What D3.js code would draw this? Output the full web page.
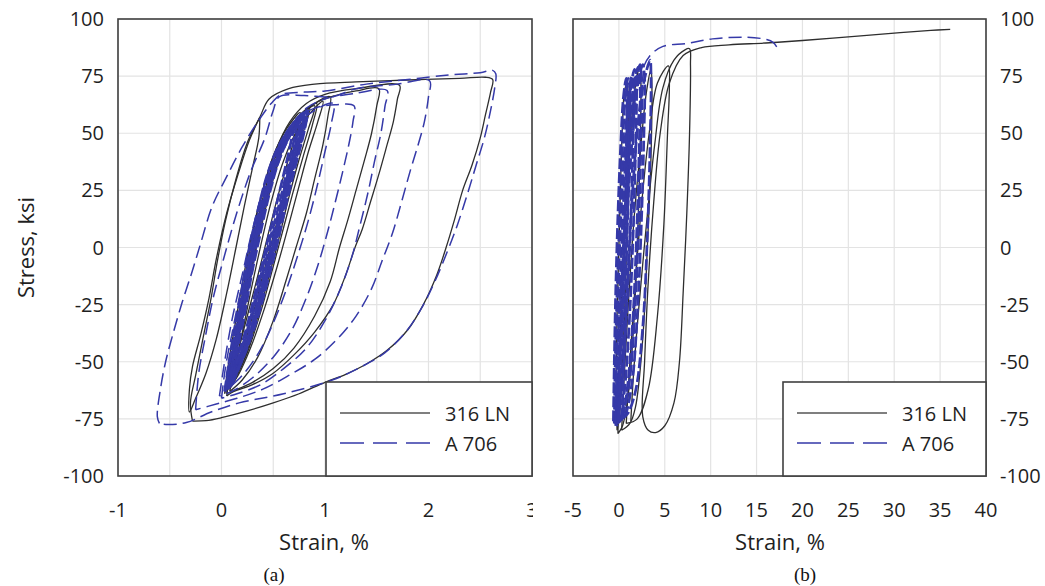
<!DOCTYPE html>
<html>
<head>
<meta charset="utf-8">
<script src="https://cdn.jsdelivr.net/npm/d3@7"></script>
<style>
  html, body { margin: 0; padding: 0; background: #fff; }
  svg { display: block; }
  .tick-label { font-family: "Open Sans", "Noto Sans", sans-serif; font-size: 20px; fill: #1f1f1f; }
  .axis-title { font-family: "Open Sans", "Noto Sans", sans-serif; font-size: 22px; fill: #1f1f1f; }
  .panel-tag { font-family: "Liberation Serif", "DejaVu Serif", serif; font-size: 19px; fill: #111; }
  .legend-text { font-family: "Open Sans", "Noto Sans", sans-serif; font-size: 20px; fill: #1f1f1f; }
</style>
</head>
<body>
<svg id="chart" width="1045" height="586"></svg>
<script>
// ---------- axis ticks and grid ----------
const stressTicks = [-100, -75, -50, -25, 0, 25, 50, 75, 100];
const strainTicksA = [-1, 0, 1, 2, 3];
const strainGridA = [-1, -0.5, 0, 0.5, 1, 1.5, 2, 2.5, 3];
const strainTicksB = [-5, 0, 5, 10, 15, 20, 25, 30, 35, 40];
const seriesNames = ["316 LN", "A 706"];

// ---------- panel (a): cyclic stress-strain loops, [strain %, stress ksi] ----------
// 316 LN, elastic cycles forming the central band
const bandA316 = [
  [[0.05,-63],[0.1,-48],[0.17,-30],[0.25,-10],[0.34,10],[0.45,30],[0.58,46],[0.72,56],[0.85,61],[0.8,52],[0.7,38],[0.6,22],[0.5,5],[0.4,-12],[0.3,-30],[0.18,-48],[0.08,-60],[0.05,-63]],
  [[0.08,-62],[0.14,-46],[0.22,-27],[0.31,-6],[0.41,14],[0.52,33],[0.65,49],[0.8,59],[0.92,63],[0.88,54],[0.79,40],[0.69,24],[0.59,7],[0.49,-10],[0.38,-28],[0.25,-46],[0.13,-58],[0.08,-62]],
  [[0.03,-64],[0.07,-50],[0.13,-34],[0.2,-16],[0.28,3],[0.38,22],[0.5,40],[0.63,52],[0.76,59],[0.72,50],[0.63,36],[0.53,20],[0.43,2],[0.33,-16],[0.22,-35],[0.12,-52],[0.03,-64]],
  [[0.1,-60],[0.18,-42],[0.27,-22],[0.37,-1],[0.48,20],[0.6,38],[0.74,52],[0.88,60],[0.98,64],[0.93,55],[0.84,42],[0.75,27],[0.65,10],[0.54,-8],[0.42,-26],[0.28,-44],[0.16,-56],[0.1,-60]],
  [[0.06,-62],[0.11,-47],[0.19,-28],[0.28,-7],[0.38,13],[0.49,32],[0.61,47],[0.75,57],[0.9,62],[0.84,52],[0.74,37],[0.64,20],[0.55,3],[0.45,-14],[0.34,-32],[0.21,-50],[0.06,-62]]
];
// 316 LN, plastic cycles of growing amplitude
const loopsA316 = [
  [[0.08,-63],[0.14,-45],[0.22,-25],[0.32,-2],[0.44,22],[0.58,42],[0.74,56],[0.9,63],[1.05,66],[1.03,58],[0.98,45],[0.9,30],[0.82,15],[0.72,0],[0.62,-15],[0.5,-32],[0.35,-48],[0.2,-58],[0.08,-63]],
  [[0.05,-64],[0.12,-45],[0.2,-25],[0.3,-2],[0.42,22],[0.56,42],[0.72,56],[0.9,63],[1.1,66.5],[1.3,68.5],[1.52,69.5],[1.5,62],[1.45,50],[1.38,38],[1.3,25],[1.22,12],[1.14,0],[1.05,-15],[0.9,-30],[0.7,-44],[0.5,-53],[0.3,-59],[0.1,-63],[0.05,-64]],
  [[0.05,-65],[0.1,-50],[0.15,-35],[0.22,-15],[0.3,5],[0.4,25],[0.52,42],[0.66,55],[0.82,63],[1.0,67],[1.3,69.5],[1.72,71],[1.7,65],[1.66,55],[1.6,45],[1.52,32],[1.44,20],[1.36,8],[1.29,0],[1.2,-12],[1.08,-25],[0.9,-37],[0.7,-47],[0.5,-55],[0.3,-60],[0.12,-63],[0.05,-65]],
  [[0.37,57],[0.36,48],[0.3,35],[0.22,18],[0.14,0],[0.05,-20],[-0.05,-40],[-0.15,-55],[-0.25,-66],[-0.31,-72],[-0.31,-62],[-0.28,-52],[-0.2,-38],[-0.12,-22],[-0.05,-5],[0.05,15],[0.16,32],[0.27,47],[0.37,57]],
  [[-0.28,-76],[-0.3,-68],[-0.25,-56],[-0.18,-40],[-0.1,-22],[-0.04,-6],[0.04,12],[0.14,30],[0.25,46],[0.37,57],[0.46,65],[0.65,69.5],[0.9,71.5],[1.3,72.5],[1.8,73.3],[2.3,74],[2.55,74.5],[2.62,73.5],[2.6,68],[2.55,58],[2.5,48],[2.42,36],[2.33,25],[2.25,12],[2.17,0],[2.08,-12],[1.95,-25],[1.8,-36],[1.6,-45],[1.4,-51],[1.2,-55.5],[1.0,-59],[0.75,-64],[0.5,-68],[0.25,-71.5],[0.0,-74.5],[-0.15,-75.8],[-0.28,-76]]
];
// A 706, elastic cycles forming the central band
const bandA706 = [
  [[0.05,-62],[0.09,-50],[0.15,-35],[0.22,-18],[0.29,0],[0.38,18],[0.49,35],[0.61,48],[0.74,56],[0.72,48],[0.64,32],[0.55,15],[0.46,0],[0.37,-16],[0.27,-34],[0.16,-50],[0.05,-62]],
  [[0.07,-61],[0.12,-48],[0.18,-33],[0.25,-15],[0.32,2],[0.41,20],[0.52,37],[0.64,50],[0.78,58],[0.75,49],[0.67,33],[0.58,16],[0.5,1],[0.41,-15],[0.31,-33],[0.19,-49],[0.07,-61]],
  [[0.03,-63],[0.07,-51],[0.12,-37],[0.19,-20],[0.26,-2],[0.35,16],[0.45,33],[0.57,46],[0.7,54],[0.67,46],[0.59,30],[0.5,13],[0.42,-2],[0.33,-19],[0.23,-37],[0.12,-52],[0.03,-63]],
  [[0.1,-60],[0.15,-46],[0.22,-30],[0.29,-12],[0.37,5],[0.46,23],[0.57,40],[0.7,52],[0.83,60],[0.8,51],[0.71,35],[0.62,18],[0.54,2],[0.45,-14],[0.34,-32],[0.22,-47],[0.1,-60]],
  [[0.06,-62],[0.1,-49],[0.16,-34],[0.23,-16],[0.31,1],[0.4,19],[0.51,36],[0.63,49],[0.76,57],[0.73,48],[0.64,31],[0.56,14],[0.48,-1],[0.39,-17],[0.29,-35],[0.17,-51],[0.06,-62]],
  [[0.05,-62],[0.11,-47],[0.18,-30],[0.26,-11],[0.34,6],[0.43,24],[0.54,41],[0.67,53],[0.8,59],[0.77,50],[0.68,34],[0.59,17],[0.51,0],[0.42,-17],[0.3,-36],[0.17,-51],[0.05,-62]],
  [[0.09,-61],[0.14,-47],[0.2,-31],[0.28,-13],[0.35,4],[0.44,22],[0.55,39],[0.68,51],[0.82,59],[0.79,50],[0.69,34],[0.6,17],[0.52,1],[0.43,-15],[0.32,-33],[0.2,-49],[0.09,-61]],
  [[0.04,-63],[0.09,-49],[0.16,-32],[0.24,-13],[0.32,3],[0.42,21],[0.53,38],[0.66,50],[0.79,57],[0.76,48],[0.66,32],[0.57,15],[0.49,-1],[0.4,-18],[0.28,-37],[0.15,-52],[0.04,-63]],
  [[0.06,-61],[0.11,-48],[0.17,-33],[0.24,-14],[0.3,0],[0.39,17],[0.5,34],[0.62,47],[0.75,55],[0.74,47],[0.66,31],[0.57,14],[0.47,-2],[0.38,-18],[0.28,-36],[0.16,-51],[0.06,-61]],
  [[0.08,-60],[0.13,-47],[0.19,-31],[0.27,-13],[0.33,3],[0.43,21],[0.54,38],[0.66,49],[0.8,57],[0.78,49],[0.7,34],[0.61,17],[0.53,1],[0.44,-15],[0.33,-33],[0.21,-48],[0.08,-60]],
  [[0.04,-62],[0.08,-50],[0.14,-36],[0.21,-19],[0.28,-1],[0.37,17],[0.47,34],[0.59,47],[0.72,55],[0.7,47],[0.62,31],[0.53,14],[0.44,-1],[0.35,-18],[0.25,-36],[0.14,-51],[0.04,-62]],
  [[0.07,-62],[0.12,-47],[0.19,-31],[0.26,-13],[0.33,4],[0.42,22],[0.53,39],[0.65,51],[0.79,58],[0.76,49],[0.66,33],[0.58,16],[0.5,0],[0.41,-16],[0.31,-34],[0.19,-50],[0.07,-62]]
];
// A 706, plastic cycles of growing amplitude
const loopsA706 = [
  [[0.06,-62],[0.12,-45],[0.2,-26],[0.3,-4],[0.42,18],[0.56,38],[0.72,53],[0.9,60],[1.08,63],[1.06,54],[1.0,42],[0.93,28],[0.84,12],[0.74,-3],[0.63,-18],[0.5,-33],[0.36,-46],[0.2,-56],[0.06,-62]],
  [[-0.02,-65],[0.03,-50],[0.1,-32],[0.2,-12],[0.3,8],[0.42,28],[0.56,45],[0.72,56],[0.9,61],[1.1,62.5],[1.28,62],[1.27,55],[1.23,45],[1.17,33],[1.1,20],[1.02,6],[0.93,-8],[0.82,-22],[0.68,-36],[0.5,-48],[0.3,-57],[0.1,-63],[-0.02,-65]],
  [[0.0,-66],[0.04,-52],[0.1,-38],[0.18,-20],[0.28,0],[0.4,20],[0.52,38],[0.66,52],[0.82,61],[1.0,65],[1.3,67.5],[1.6,68.7],[1.58,62],[1.54,50],[1.48,38],[1.42,25],[1.34,10],[1.26,-4],[1.15,-18],[1.0,-32],[0.82,-44],[0.6,-53],[0.38,-60],[0.15,-64],[0.0,-66]],
  [[-0.25,-71],[-0.22,-55],[-0.16,-40],[-0.08,-22],[0.02,-5],[0.14,14],[0.28,33],[0.42,48],[0.5,60],[0.56,66],[0.8,66.5],[1.07,66],[1.3,69.5],[1.7,71.5],[2.01,73],[2.0,66],[1.96,55],[1.9,45],[1.82,33],[1.74,20],[1.65,6],[1.55,-6],[1.45,-18],[1.3,-30],[1.12,-40],[0.9,-49],[0.65,-56],[0.4,-62],[0.15,-66],[-0.05,-68.5],[-0.25,-71]],
  [[-0.6,-77],[-0.62,-74],[-0.59,-62],[-0.54,-50],[-0.47,-38],[-0.38,-24],[-0.28,-10],[-0.2,2],[-0.09,18],[0.05,31],[0.2,44],[0.35,55],[0.48,63],[0.58,67],[0.8,68],[1.0,68.5],[1.4,71.5],[1.8,73.5],[2.2,75.5],[2.5,76.5],[2.62,77.5],[2.65,76],[2.64,70],[2.6,60],[2.54,48],[2.46,36],[2.38,24],[2.28,10],[2.18,-2],[2.06,-15],[1.94,-26],[1.78,-37],[1.58,-46],[1.36,-52],[1.07,-58],[0.6,-64],[0.17,-68],[-0.1,-72],[-0.34,-76.6],[-0.52,-77.5],[-0.6,-77]]
];

// ---------- panel (b): cycles followed by pull to fracture ----------
const loopsB316 = [
  [[-0.2,-80],[-0.3,-60],[-0.2,-30],[0.0,0],[0.2,30],[0.4,55],[0.6,68],[0.9,72],[1.0,65],[1.0,40],[0.9,10],[0.7,-20],[0.4,-50],[0.1,-72],[-0.2,-80]],
  [[-0.1,-81.5],[0.0,-55],[0.3,-20],[0.7,15],[1.2,45],[1.7,68],[2.3,80],[2.4,72],[2.3,40],[2.0,0],[1.6,-35],[1.0,-65],[0.4,-78],[-0.1,-81.5]],
  [[0.3,-80],[0.6,-55],[1.1,-20],[1.7,15],[2.4,45],[3.0,68],[3.5,78],[3.6,70],[3.5,40],[3.1,0],[2.6,-40],[1.8,-70],[1.2,-77],[0.3,-80]],
  [[0.8,-77],[1.2,-50],[1.8,-15],[2.5,20],[3.3,50],[4.2,72],[5.4,79.5],[5.5,70],[5.3,50],[4.9,10],[4.2,-30],[3.2,-62],[2.0,-75],[0.8,-77]],
  [[1.3,-76],[1.6,-55],[2.2,-25],[3.0,10],[3.9,45],[4.8,70],[6.0,82],[7.2,86.5],[7.7,87],[7.8,80],[7.7,50],[7.4,15],[7.0,-20],[6.6,-50],[6.0,-68],[5.0,-78],[4.0,-81],[3.2,-80],[2.6,-74],[2.8,-50],[3.2,-15],[3.8,20],[4.5,50],[5.5,72],[7.0,84],[9.0,87.5],[12,88.7],[16,89.5],[20,90.6],[25,92.2],[30,93.8],[34,95],[36.1,95.5]]
];
const loopsB706 = [
  [[-0.6,-76],[-0.5,-50],[-0.35,-20],[-0.1,15],[0.2,45],[0.5,66],[0.8,74],[0.9,65],[0.8,35],[0.6,0],[0.3,-35],[-0.1,-62],[-0.4,-74],[-0.6,-76]],
  [[-0.5,-77],[-0.4,-50],[-0.2,-20],[0.1,15],[0.4,45],[0.7,65],[1.0,74],[1.2,70],[1.1,40],[0.9,5],[0.6,-30],[0.2,-60],[-0.2,-74],[-0.5,-77]],
  [[-0.4,-77],[-0.3,-52],[-0.1,-22],[0.2,12],[0.6,42],[1.0,64],[1.4,75],[1.6,70],[1.5,40],[1.2,2],[0.8,-32],[0.3,-62],[-0.1,-74],[-0.4,-77]],
  [[-0.3,-78],[-0.2,-55],[0.1,-20],[0.5,20],[0.9,50],[1.3,70],[1.7,78],[1.9,72],[1.8,40],[1.5,0],[1.1,-35],[0.6,-63],[0.1,-76],[-0.3,-78]],
  [[-0.2,-77],[0.0,-52],[0.3,-18],[0.7,18],[1.1,48],[1.5,68],[2.1,79],[2.3,72],[2.2,42],[1.9,2],[1.5,-33],[0.9,-62],[0.3,-75],[-0.2,-77]],
  [[-0.1,-76],[0.1,-50],[0.4,-15],[0.8,20],[1.3,50],[1.8,70],[2.3,80],[2.5,73],[2.4,44],[2.1,4],[1.7,-31],[1.1,-60],[0.4,-73],[-0.1,-76]],
  [[0.0,-76],[0.2,-50],[0.6,-15],[1.0,20],[1.5,50],[2.0,70],[2.6,80],[2.8,74],[2.7,45],[2.4,5],[2.0,-30],[1.4,-60],[0.6,-74],[0.0,-76]],
  [[0.3,-75],[0.6,-45],[1.0,-10],[1.5,25],[2.1,55],[2.7,72],[3.4,82],[3.5,75],[3.4,45],[3.1,5],[2.6,-35],[1.8,-63],[0.9,-73],[0.3,-75]]
];
// A 706, final pull until fracture
const pullB706 = [
  [[-0.4,-78],[-0.2,-50],[0.3,-10],[0.9,30],[1.6,60],[2.4,76],[3.4,84],[4.8,88],[7.4,89.3],[10.2,91.3],[14,92],[16.1,91],[16.8,89.8],[17.2,87.8]]
];

// ---------- drawing ----------
const svg = d3.select("#chart");
const C316 = "#2e2e2e", C706 = "#3539a8", GRID = "#e3e3e3", FRAME = "#404040";
const plotTop = 19, plotBottom = 476;
const y = d3.scaleLinear().domain([-100, 100]).range([plotBottom, plotTop]);
const xA = d3.scaleLinear().domain([-1, 3]).range([118, 532]);
const xB = d3.scaleLinear().domain([-5, 40]).range([573, 986]);

const defs = svg.append("defs");
function addClip(id, x0, x1) {
  defs.append("clipPath").attr("id", id).append("rect")
    .attr("x", x0).attr("y", plotTop).attr("width", x1 - x0).attr("height", plotBottom - plotTop);
}
addClip("clipA", 118, 532);
addClip("clipB", 573, 986);
defs.append("clipPath").attr("id", "clipTickA").append("rect")
  .attr("x", 0).attr("y", 480).attr("width", 533).attr("height", 60);

// dense cycles are drawn with a heavier stroke, single excursions with a light one
function drawPanel(x, gridX, ticksX, clipId, black, blackBand, blueLight, blueDense, legendX0) {
  const g = svg.append("g");
  // grid
  g.append("g").selectAll("line").data(gridX).join("line")
    .attr("x1", d => x(d)).attr("x2", d => x(d)).attr("y1", plotTop).attr("y2", plotBottom)
    .attr("stroke", GRID).attr("stroke-width", 1.2);
  g.append("g").selectAll("line").data(stressTicks).join("line")
    .attr("x1", x.range()[0]).attr("x2", x.range()[1]).attr("y1", d => y(d)).attr("y2", d => y(d))
    .attr("stroke", GRID).attr("stroke-width", 1.2);

  const line = d3.line().x(d => x(d[0])).y(d => y(d[1])).curve(d3.curveCatmullRom.alpha(0.5));
  const plot = g.append("g").attr("clip-path", `url(#${clipId})`);
  plot.selectAll("path.b316band").data(blackBand).join("path").attr("class", "b316band")
    .attr("d", line).attr("fill", "none").attr("stroke", C316).attr("stroke-width", 1.3);
  plot.selectAll("path.b316").data(black).join("path").attr("class", "b316")
    .attr("d", line).attr("fill", "none").attr("stroke", C316).attr("stroke-width", 1.3);
  plot.selectAll("path.b706dense").data(blueDense).join("path").attr("class", "b706dense")
    .attr("d", line).attr("fill", "none").attr("stroke", C706).attr("stroke-width", 2.7)
    .attr("stroke-dasharray", "11,3");
  plot.selectAll("path.b706").data(blueLight).join("path").attr("class", "b706")
    .attr("d", line).attr("fill", "none").attr("stroke", C706).attr("stroke-width", 1.5)
    .attr("stroke-dasharray", "13,6");

  // frame
  g.append("rect").attr("x", x.range()[0]).attr("y", plotTop)
    .attr("width", x.range()[1] - x.range()[0]).attr("height", plotBottom - plotTop)
    .attr("fill", "none").attr("stroke", FRAME).attr("stroke-width", 1.6);

  // legend
  const lg = g.append("g");
  lg.append("rect").attr("x", legendX0).attr("y", 382).attr("width", x.range()[1] - legendX0).attr("height", plotBottom - 382)
    .attr("fill", "#fff").attr("stroke", FRAME).attr("stroke-width", 1.6);
  const lx = legendX0 + 14;
  lg.append("line").attr("x1", lx).attr("x2", lx + 90).attr("y1", 413).attr("y2", 413)
    .attr("stroke", "#555").attr("stroke-width", 1.5);
  lg.append("line").attr("x1", lx).attr("x2", lx + 90).attr("y1", 443).attr("y2", 443)
    .attr("stroke", C706).attr("stroke-width", 1.4).attr("stroke-dasharray", "24,9");
  lg.append("text").attr("class", "legend-text").attr("x", lx + 105).attr("y", 421).text(seriesNames[0]);
  lg.append("text").attr("class", "legend-text").attr("x", lx + 105).attr("y", 451).text(seriesNames[1]);

  // x tick labels
  const xt = g.append("g");
  if (clipId === "clipA") xt.attr("clip-path", "url(#clipTickA)");
  xt.selectAll("text").data(ticksX).join("text").attr("class", "tick-label")
    .attr("x", d => x(d)).attr("y", 517).attr("text-anchor", "middle").text(d => d);
  return g;
}

drawPanel(xA, strainGridA, strainTicksA, "clipA", loopsA316, bandA316, loopsA706, bandA706, 326);
drawPanel(xB, strainTicksB, strainTicksB, "clipB", loopsB316, [], pullB706, loopsB706, 783);

// y tick labels: left of panel (a), right of panel (b)
svg.append("g").selectAll("text").data(stressTicks).join("text").attr("class", "tick-label")
  .attr("x", 104).attr("y", d => y(d) + 7).attr("text-anchor", "end").text(d => d);
svg.append("g").selectAll("text").data(stressTicks).join("text").attr("class", "tick-label")
  .attr("x", 1000).attr("y", d => y(d) + 7).attr("text-anchor", "start").text(d => d);

// axis titles and panel tags
svg.append("text").attr("class", "axis-title").attr("text-anchor", "middle")
  .attr("transform", `translate(34,${(plotTop + plotBottom) / 2}) rotate(-90)`).text("Stress, ksi");
svg.append("text").attr("class", "axis-title").attr("text-anchor", "middle")
  .attr("x", 324).attr("y", 550).text("Strain, %");
svg.append("text").attr("class", "axis-title").attr("text-anchor", "middle")
  .attr("x", 780).attr("y", 550).text("Strain, %");
svg.append("text").attr("class", "panel-tag").attr("text-anchor", "middle")
  .attr("x", 274).attr("y", 581).text("(a)");
svg.append("text").attr("class", "panel-tag").attr("text-anchor", "middle")
  .attr("x", 805).attr("y", 581).text("(b)");
</script>
</body>
</html>
